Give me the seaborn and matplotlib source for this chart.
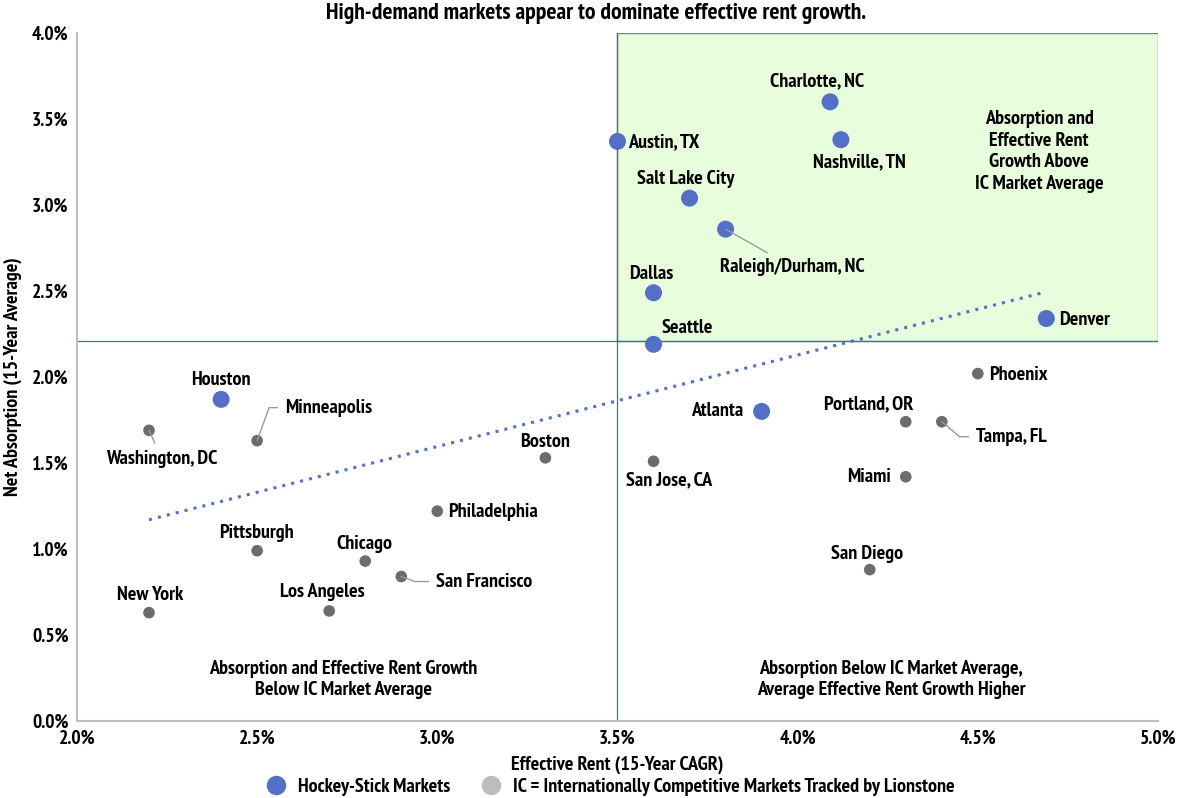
import matplotlib
matplotlib.use("Agg")
import matplotlib.pyplot as plt
import pandas as pd
import seaborn as sns
from matplotlib.lines import Line2D
from matplotlib.patches import Rectangle
from matplotlib.ticker import FuncFormatter

# data (values in %)
markets = ["Charlotte, NC", "Austin, TX", "Nashville, TN", "Salt Lake City",
           "Raleigh/Durham, NC", "Dallas", "Seattle", "Denver", "Houston", "Atlanta",
           "Phoenix", "Portland, OR", "Tampa, FL", "Miami", "San Diego", "San Jose, CA",
           "Boston", "Philadelphia", "Washington, DC", "Minneapolis", "Pittsburgh",
           "Chicago", "San Francisco", "New York", "Los Angeles"]
rent_cagr = [4.09, 3.50, 4.12, 3.70, 3.80, 3.60, 3.60, 4.69, 2.40, 3.90,
             4.50, 4.30, 4.40, 4.30, 4.20, 3.60,
             3.30, 3.00, 2.20, 2.50, 2.50, 2.80, 2.90, 2.20, 2.70]
absorption = [3.60, 3.37, 3.38, 3.04, 2.86, 2.49, 2.19, 2.34, 1.87, 1.80,
              2.02, 1.74, 1.74, 1.42, 0.88, 1.51,
              1.53, 1.22, 1.69, 1.63, 0.99, 0.93, 0.84, 0.63, 0.64]
group = ["Hockey"] * 10 + ["IC"] * 15

ic_avg_rent = 3.50
ic_avg_absorption = 2.21
trend_x = [2.20, 4.68]
trend_y = [1.17, 2.49]

# label placement: (dx px, dy px, ha, leader connection or None)
label_pos = {
    "Charlotte, NC": (-13, 21, "center", None),
    "Austin, TX": (11, -1, "left", None),
    "Nashville, TN": (18, -23, "center", None),
    "Salt Lake City": (-4, 19, "center", None),
    "Raleigh/Durham, NC": (67, -38, "center", "arc3"),
    "Dallas": (-2, 19, "center", None),
    "Seattle": (34, 16, "center", None),
    "Denver": (13, -1, "left", None),
    "Houston": (0, 19, "center", None),
    "Atlanta": (-18, 0, "right", None),
    "Phoenix": (11, -1, "left", None),
    "Portland, OR": (-37, 17, "center", None),
    "Tampa, FL": (34, -15, "left", "angle,angleA=0,angleB=-40,rad=0"),
    "Miami": (-15, 0, "right", None),
    "San Diego": (-3, 16, "center", None),
    "San Jose, CA": (16, -19, "center", None),
    "Boston": (0, 16, "center", None),
    "Philadelphia": (11, -1, "left", None),
    "Washington, DC": (13, -29, "center", "arc3"),
    "Minneapolis": (28, 33, "left", "angle,angleA=0,angleB=70,rad=0"),
    "Pittsburgh": (-1, 18, "center", None),
    "Chicago": (-1, 17, "center", None),
    "San Francisco": (35, -5, "left", "angle,angleA=0,angleB=-20,rad=0"),
    "New York": (1, 18, "center", None),
    "Los Angeles": (-7, 19, "center", None),
}

df = pd.DataFrame({"Market": markets, "Rent": rent_cagr,
                   "Absorption": absorption, "Group": group})

sns.set_style("white")
plt.rcParams["font.family"] = ["PT Sans Narrow", "DejaVu Sans"]
plt.rcParams["font.weight"] = "bold"
plt.rcParams["text.color"] = "black"
plt.rcParams["axes.labelcolor"] = "black"
plt.rcParams["xtick.color"] = "black"
plt.rcParams["ytick.color"] = "black"

fs = 14.5
blue = "#5470C6"
gray = "#6E6B6B"
fig = plt.figure(figsize=(11.82, 7.98), dpi=100)
ax = fig.add_axes([0.0651, 0.0965, 0.9146, 0.8621])

ax.add_patch(Rectangle((ic_avg_rent, ic_avg_absorption), 5.0 - ic_avg_rent,
                       4.0 - ic_avg_absorption, facecolor="#E8FDDC",
                       edgecolor="#6E8A80", linewidth=1.0, zorder=0))
ax.axhline(ic_avg_absorption, color="#4C7474", linewidth=0.9, zorder=1)
ax.axvline(ic_avg_rent, color="#4C7474", linewidth=0.9, zorder=1)
ax.plot(trend_x, trend_y, linestyle=(0, (1, 2.0)), color=blue, linewidth=2.2, zorder=2)

sns.scatterplot(data=df[df.Group == "IC"], x="Rent", y="Absorption", color=gray,
                s=70, edgecolor="none", ax=ax, zorder=3, legend=False)
sns.scatterplot(data=df[df.Group == "Hockey"], x="Rent", y="Absorption", color=blue,
                s=150, edgecolor="none", ax=ax, zorder=4, legend=False)

for name, xv, yv in zip(markets, rent_cagr, absorption):
    dx, dy, ha, conn = label_pos[name]
    arrow = None
    if conn:
        arrow = dict(arrowstyle="-", color="#999999", lw=1, shrinkA=3, shrinkB=0,
                     connectionstyle=conn)
    ax.annotate(name, (xv, yv), xytext=(dx, dy), textcoords="offset pixels",
                ha=ha, va="center", fontsize=fs, fontweight="bold", zorder=5,
                arrowprops=arrow)

ax.text(4.67, 3.31, "Absorption and\nEffective Rent\nGrowth Above\nIC Market Average",
        ha="center", va="center", fontsize=fs, fontweight="bold", linespacing=1.25)
ax.text(2.74, 0.24, "Absorption and Effective Rent Growth\nBelow IC Market Average",
        ha="center", va="center", fontsize=fs, fontweight="bold", linespacing=1.25)
ax.text(4.26, 0.24, "Absorption Below IC Market Average,\nAverage Effective Rent Growth Higher",
        ha="center", va="center", fontsize=fs, fontweight="bold", linespacing=1.25)

ax.set_xlim(2.0, 5.0)
ax.set_ylim(0.0, 4.0)
ax.set_xticks([2.0, 2.5, 3.0, 3.5, 4.0, 4.5, 5.0])
ax.set_yticks([0.0, 0.5, 1.0, 1.5, 2.0, 2.5, 3.0, 3.5, 4.0])
pct = FuncFormatter(lambda v, p: f"{v:.1f}%")
ax.xaxis.set_major_formatter(pct)
ax.yaxis.set_major_formatter(pct)
ax.tick_params(axis="both", length=0, labelsize=14, pad=6)
for lab in ax.get_xticklabels() + ax.get_yticklabels():
    lab.set_fontweight("bold")
for side in ["top", "right"]:
    ax.spines[side].set_visible(False)
for side in ["left", "bottom"]:
    ax.spines[side].set_color("#BFBFBF")
    ax.spines[side].set_linewidth(1.5)

ax.set_xlabel("Effective Rent (15-Year CAGR)", fontsize=fs, fontweight="bold", labelpad=6)
ax.set_ylabel("Net Absorption (15-Year Average)", fontsize=fs, fontweight="bold", labelpad=7)
fig.text(0.504, 0.9825, "High-demand markets appear to dominate effective rent growth.",
         ha="center", va="center", fontsize=17, fontweight="bold")

handles = [Line2D([], [], marker="o", linestyle="", color=blue, markersize=13),
           Line2D([], [], marker="o", linestyle="", color="#BDBDBD", markersize=13)]
fig.legend(handles, ["Hockey-Stick Markets",
                     "IC = Internationally Competitive Markets Tracked by Lionstone"],
           loc="center", bbox_to_anchor=(0.512, 0.0138), ncol=2, frameon=False,
           handletextpad=0.1, columnspacing=1.0, borderpad=0,
           prop={"family": ["PT Sans Narrow", "DejaVu Sans"], "weight": "bold", "size": fs})

fig.savefig("out.png", dpi=100)
